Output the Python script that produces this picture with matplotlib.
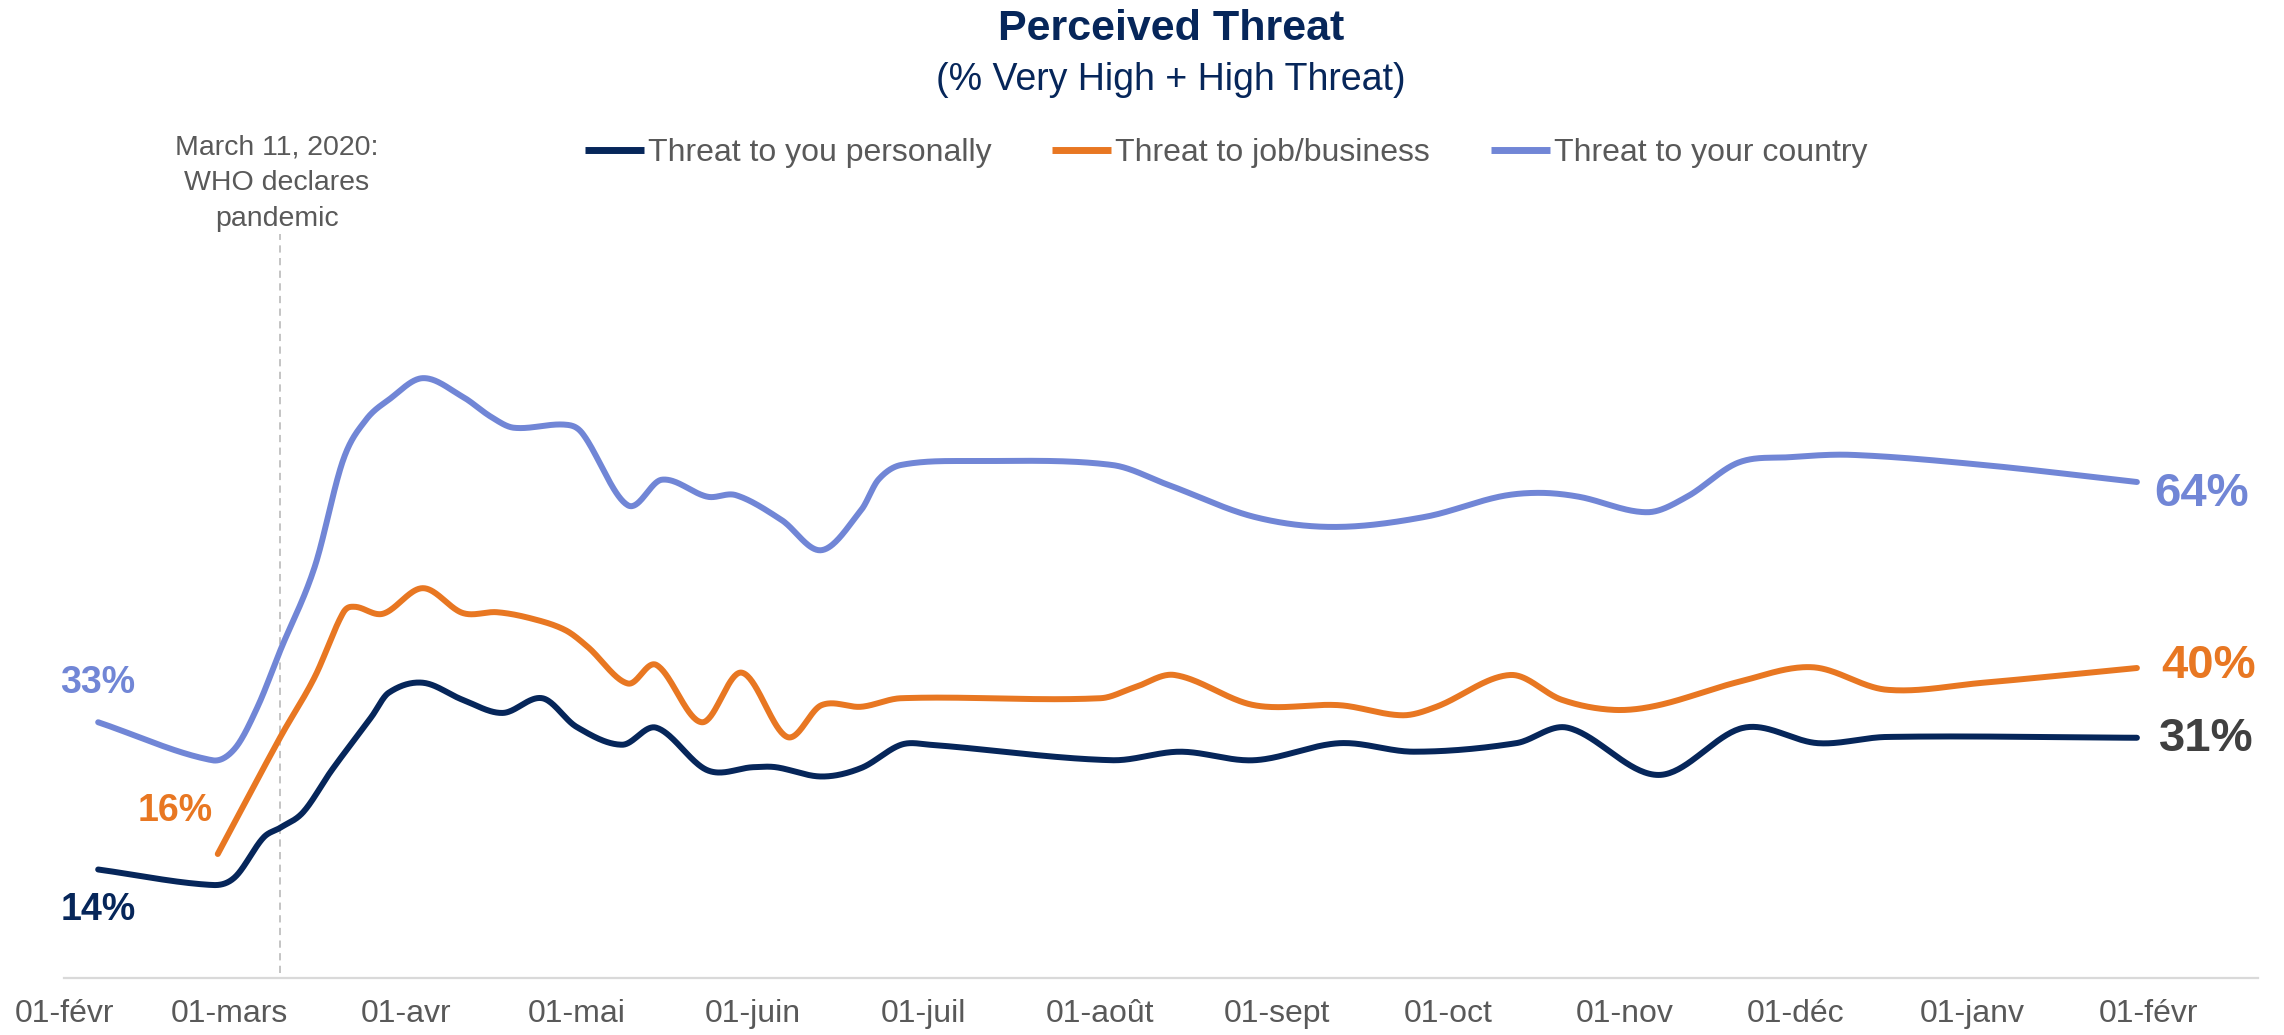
import numpy as np
import pandas as pd
import matplotlib
matplotlib.use("Agg")
import matplotlib.pyplot as plt
import matplotlib.dates as mdates

# ---------------- data ----------------
country_dates = ["2020-02-07", "2020-02-27", "2020-03-02", "2020-03-06", "2020-03-10", "2020-03-16",
                 "2020-03-21", "2020-03-25", "2020-03-29", "2020-04-04", "2020-04-11", "2020-04-16",
                 "2020-04-20", "2020-04-29", "2020-05-02", "2020-05-10", "2020-05-16", "2020-05-24",
                 "2020-05-29", "2020-06-06", "2020-06-13", "2020-06-20", "2020-06-23", "2020-06-27",
                 "2020-07-10", "2020-08-03", "2020-08-13", "2020-08-28", "2020-09-11", "2020-09-27",
                 "2020-10-10", "2020-10-17", "2020-10-24", "2020-11-05", "2020-11-12", "2020-11-21",
                 "2020-11-30", "2020-12-11", "2021-01-03", "2021-01-30"]
country_values = [33, 28.1, 29.6, 35.0, 42.3, 53.0, 66.8, 72.0, 74.6, 77.4, 75.0, 72.4,
                  71.0, 71.4, 70.3, 61.0, 64.3, 62.1, 62.3, 59.1, 55.2, 60.4, 64.3, 66.2,
                  66.7, 66.2, 63.6, 59.5, 58.2, 59.5, 62.1, 62.6, 62.1, 60.1, 62.1, 66.5,
                  67.2, 67.5, 66.2, 64]

job_dates = ["2020-02-28", "2020-03-10", "2020-03-16", "2020-03-21", "2020-03-23", "2020-03-28",
             "2020-04-04", "2020-04-11", "2020-04-17", "2020-04-23", "2020-04-29", "2020-05-03",
             "2020-05-10", "2020-05-15", "2020-05-23", "2020-05-30", "2020-06-07", "2020-06-13",
             "2020-06-20", "2020-06-27", "2020-08-01", "2020-08-07", "2020-08-14", "2020-08-28",
             "2020-09-12", "2020-09-23", "2020-09-29", "2020-10-12", "2020-10-21", "2020-10-30",
             "2020-11-07", "2020-11-21", "2020-12-04", "2020-12-17", "2021-01-03", "2021-01-30"]
job_values = [16, 31.1, 38.8, 47.1, 47.9, 47.0, 50.3, 47.1, 47.2, 46.4, 44.9, 42.7,
              38.0, 40.4, 33.0, 39.4, 31.1, 35.2, 35.0, 36.1, 36.1, 37.5, 39.1, 35.2,
              35.2, 33.9, 35.0, 39.1, 35.9, 34.6, 35.2, 38.2, 40.1, 37.2, 38.1, 40]

personal_dates = ["2020-02-07", "2020-02-27", "2020-03-02", "2020-03-07", "2020-03-10", "2020-03-14",
                  "2020-03-19", "2020-03-26", "2020-03-29", "2020-04-04", "2020-04-11", "2020-04-18",
                  "2020-04-25", "2020-05-01", "2020-05-09", "2020-05-15", "2020-05-24", "2020-06-01",
                  "2020-06-05", "2020-06-13", "2020-06-20", "2020-06-27", "2020-07-02", "2020-08-03",
                  "2020-08-15", "2020-08-28", "2020-09-12", "2020-09-25", "2020-10-13", "2020-10-22",
                  "2020-11-07", "2020-11-22", "2020-12-05", "2020-12-17", "2021-01-30"]
personal_values = [14, 12.0, 13.0, 18.1, 19.4, 21.4, 26.8, 33.7, 36.8, 38.1, 35.9, 34.2,
                   36.1, 32.4, 30.1, 32.3, 26.8, 27.2, 27.2, 26.0, 27.1, 30.1, 30.1, 28.1,
                   29.2, 28.1, 30.3, 29.2, 30.3, 32.3, 26.2, 32.3, 30.3, 31.1, 31]

series_names = ["Threat to you personally", "Threat to job/business", "Threat to your country"]
tick_dates = ["2020-02-01", "2020-03-01", "2020-04-01", "2020-05-01", "2020-06-01", "2020-07-01",
              "2020-08-01", "2020-09-01", "2020-10-01", "2020-11-01", "2020-12-01", "2021-01-01",
              "2021-02-01"]
tick_labels = ["01-févr", "01-mars", "01-avr", "01-mai", "01-juin", "01-juil", "01-août",
               "01-sept", "01-oct", "01-nov", "01-déc", "01-janv", "01-févr"]
event_date = "2020-03-10"
event_text = "March 11, 2020:\nWHO declares\npandemic"
title = "Perceived Threat"
subtitle = "(% Very High + High Threat)"

# ---------------- style ----------------
NAVY = "#06265A"
ORANGE = "#E87722"
LBLUE = "#7186D6"
GRAY = "#595959"
DARKGRAY = "#404040"
FONT = ["Liberation Sans", "DejaVu Sans"]
plt.rcParams["font.family"] = FONT


def smooth(dates, values, n=40):
    x = mdates.date2num(pd.to_datetime(dates))
    y = np.asarray(values, dtype=float)
    m = np.zeros_like(y)
    m[0] = (y[1] - y[0]) / (x[1] - x[0])
    m[-1] = (y[-1] - y[-2]) / (x[-1] - x[-2])
    m[1:-1] = (y[2:] - y[:-2]) / (x[2:] - x[:-2])
    xs, ys = [], []
    t = np.linspace(0, 1, n)
    h00 = 2 * t**3 - 3 * t**2 + 1
    h10 = t**3 - 2 * t**2 + t
    h01 = -2 * t**3 + 3 * t**2
    h11 = t**3 - t**2
    for i in range(len(x) - 1):
        h = x[i + 1] - x[i]
        xs.append(x[i] + t * h)
        ys.append(h00 * y[i] + h10 * h * m[i] + h01 * y[i + 1] + h11 * h * m[i + 1])
    return np.concatenate(xs), np.concatenate(ys)


W, H = 2284, 1035
fig = plt.figure(figsize=(W / 100, H / 100), dpi=100)

# axes geometry (pixels)
ax_left, ax_right = 64, 2258
ax_bottom, ymax = 978, 96
px_per_pct = 7.75
ax_top = ax_bottom - ymax * px_per_pct
ax = fig.add_axes([ax_left / W, (H - ax_bottom) / H, (ax_right - ax_left) / W, (ax_bottom - ax_top) / H])

x0 = mdates.date2num(pd.Timestamp("2020-02-01")) + 0.35
px_per_day = 5.7
ax.set_xlim(x0, x0 + (ax_right - ax_left) / px_per_day)
ax.set_ylim(0, ymax)

lines = []
for d, v, c, name in [(personal_dates, personal_values, NAVY, series_names[0]),
                      (job_dates, job_values, ORANGE, series_names[1]),
                      (country_dates, country_values, LBLUE, series_names[2])]:
    xs, ys = smooth(d, v)
    ln, = ax.plot(xs, ys, color=c, lw=4.3, solid_capstyle="round", solid_joinstyle="round",
                  label=name, zorder=3)
    lines.append(ln)

# event line
ex = mdates.date2num(pd.Timestamp(event_date))
ax.axvline(ex, ymin=0.007, ymax=1.0, color="#BFBFBF", lw=1.3, ls=(0, (4, 3)), clip_on=False, zorder=1)
fig.text(277 / W, 1 - 134 / H, event_text, ha="center", va="top", fontsize=20.5, color=GRAY,
         linespacing=1.5)

# spines / ticks
for s in ["top", "right", "left"]:
    ax.spines[s].set_visible(False)
ax.spines["bottom"].set_color("#D9D9D9")
ax.spines["bottom"].set_linewidth(1.6)
ax.set_yticks([])
ax.set_xticks(mdates.date2num(pd.to_datetime(tick_dates)))
ax.set_xticklabels(tick_labels)
ax.tick_params(axis="x", length=0, pad=15, labelsize=23, labelcolor=GRAY)

# value labels
def lab(dates, values, idx, color, size, dx, dy, ha):
    xd = mdates.date2num(pd.Timestamp(dates[idx]))
    ax.annotate(f"{values[idx]:.0f}%", (xd, values[idx]), xytext=(dx * 0.72, dy * 0.72),
                textcoords="offset points", ha=ha, va="center", fontsize=size,
                fontweight="bold", color=color, annotation_clip=False)

lab(country_dates, country_values, 0, LBLUE, 27, 0, 39, "center")
lab(personal_dates, personal_values, 0, NAVY, 27, 0, -41, "center")
lab(job_dates, job_values, 0, ORANGE, 27, -43, 43, "center")
lab(country_dates, country_values, -1, LBLUE, 34, 17, -12, "left")
lab(job_dates, job_values, -1, ORANGE, 34, 24, 2, "left")
lab(personal_dates, personal_values, -1, DARKGRAY, 34, 22, -1, "left")

# title
tx = 1171 / W
fig.text(tx, 1 - 40 / H, title, ha="center", va="baseline", fontsize=31, fontweight="bold", color=NAVY)
fig.text(tx, 1 - 90 / H, subtitle, ha="center", va="baseline", fontsize=27, color=NAVY)

# legend
leg = fig.legend(handles=lines, labels=series_names, loc="center", bbox_to_anchor=(1226 / W, 1 - 153 / H),
                 ncol=3, frameon=False, fontsize=23, handlelength=1.85, handletextpad=0.12,
                 columnspacing=1.9, borderpad=0, borderaxespad=0)
for t in leg.get_texts():
    t.set_color(GRAY)
for h in leg.legend_handles:
    h.set_linewidth(5)
    h.set_solid_capstyle("butt")

fig.savefig("out.png", dpi=100)
